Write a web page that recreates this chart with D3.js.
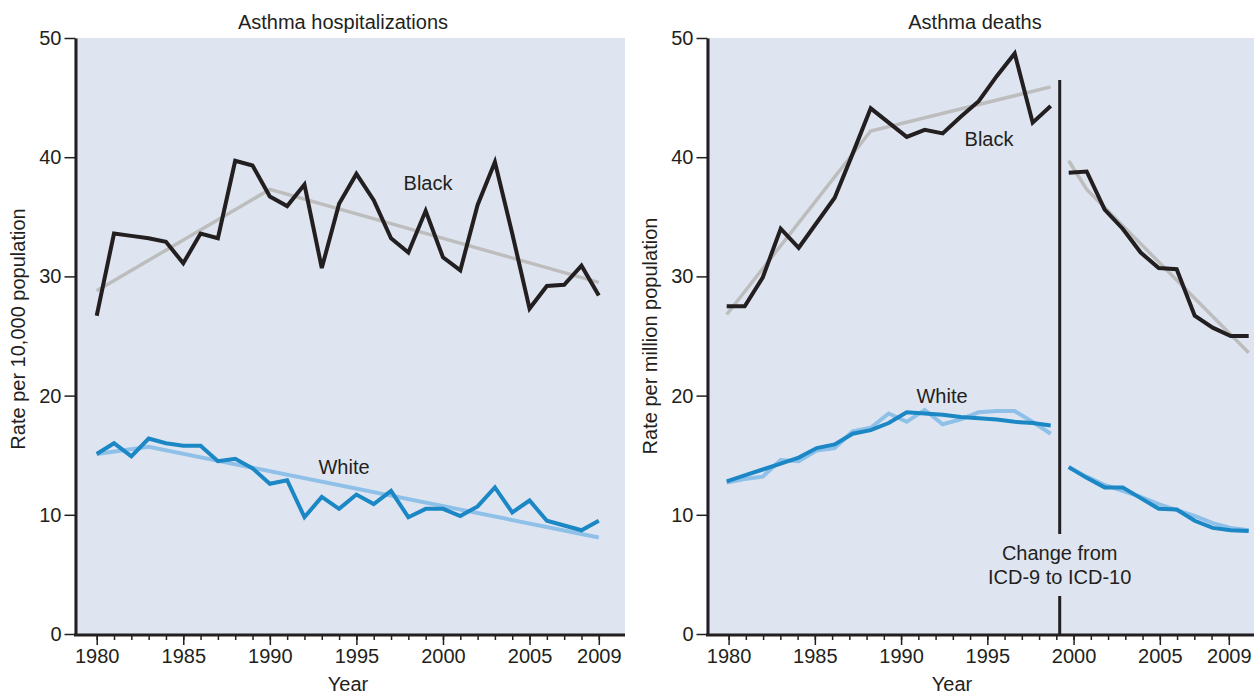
<!DOCTYPE html>
<html>
<head>
<meta charset="utf-8">
<script src="https://cdn.jsdelivr.net/npm/d3@7"></script>
<style>
  html, body { margin: 0; padding: 0; background: #fff; }
  svg { display: block; font-family: "Liberation Sans", Arial, sans-serif; }
</style>
</head>
<body>
<svg id="chart" width="1254" height="696"></svg>
<script>
// ---- Asthma hospitalizations (rate per 10,000 population), 1980–2009 ----
const hospYears = d3.range(1980, 2010);
const hospBlack = [26.7, 33.6, 33.4, 33.2, 32.9, 31.1, 33.6, 33.2, 39.7, 39.3,
                   36.7, 35.9, 37.7, 30.7, 36.1, 38.6, 36.4, 33.2, 32.0, 35.5,
                   31.6, 30.5, 36.0, 39.6, 33.6, 27.3, 29.2, 29.3, 30.9, 28.4];
const hospWhite = [15.1, 16.0, 14.9, 16.4, 16.0, 15.8, 15.8, 14.5, 14.7, 13.9,
                   12.6, 12.9, 9.8, 11.5, 10.5, 11.7, 10.9, 12.0, 9.8, 10.5,
                   10.5, 9.9, 10.7, 12.3, 10.2, 11.2, 9.5, 9.1, 8.7, 9.5];
// fitted trend segments [year, rate]
const hospBlackTrend = [[1980, 28.8], [1990, 37.3], [2009, 29.5]];
const hospWhiteTrend = [[1980, 15.1], [1983, 15.7], [2009, 8.1]];

// ---- Asthma deaths (rate per million population) ----
// ICD-9 period 1980–1998, ICD-10 period 1999–2009
const deathYears9 = d3.range(1980, 1999);
const deathYears10 = d3.range(1999, 2010);
const deathBlack9 = [27.5, 27.5, 29.9, 34.0, 32.4, 34.5, 36.6, 40.3, 44.1, 42.9,
                     41.7, 42.3, 42.0, 43.4, 44.7, 46.8, 48.7, 42.9, 44.3];
const deathBlack10 = [38.7, 38.8, 35.6, 34.0, 32.0, 30.7, 30.6, 26.7, 25.7, 25.0, 25.0];
const deathBlackTrend9 = [[1980, 26.8], [1988, 42.2], [1998, 45.9]];
const deathBlackTrend10 = [[1999, 39.7], [2000, 37.3], [2009, 23.6]];
const deathWhite9 = [12.7, 13.0, 13.2, 14.6, 14.5, 15.4, 15.6, 17.0, 17.3, 18.5,
                     17.8, 18.8, 17.6, 18.0, 18.6, 18.7, 18.7, 17.8, 16.8];
const deathWhiteFit9 = [12.8, 13.3, 13.8, 14.3, 14.8, 15.6, 15.9, 16.8, 17.1, 17.7,
                        18.6, 18.5, 18.4, 18.2, 18.1, 18.0, 17.8, 17.7, 17.5];
const deathWhite10 = [14.0, 13.2, 12.5, 12.0, 11.5, 10.9, 10.4, 9.9, 9.3, 8.9, 8.7];
const deathWhiteFit10 = [14.0, 13.1, 12.3, 12.3, 11.4, 10.5, 10.45, 9.5, 8.9, 8.7, 8.65];

const yTicks = [0, 10, 20, 30, 40, 50];
const yearTicks = [1980, 1985, 1990, 1995, 2000, 2005, 2009];

const C = {
  bg: "#dee5f1",
  ink: "#231f20",
  black: "#231f20",
  gray: "#bdbdbd",
  blue: "#1b87c5",
  lightBlue: "#8fc0e8"
};

const svg = d3.select("#chart");
const y = d3.scaleLinear().domain([0, 50]).range([634, 38]);

function panel(opts) {
  const g = svg.append("g");
  // plot background
  g.append("rect")
    .attr("x", opts.left).attr("y", y(50))
    .attr("width", opts.right - opts.left).attr("height", y(0) - y(50))
    .attr("fill", C.bg);

  // title
  g.append("text")
    .attr("x", opts.titleX).attr("y", 29)
    .attr("text-anchor", "middle")
    .attr("font-size", 20).attr("fill", C.ink)
    .text(opts.title);

  // y axis
  const ya = g.append("g")
    .attr("transform", `translate(${opts.left + 1.5},0)`)
    .call(d3.axisLeft(y).tickValues(yTicks).tickSize(11).tickSizeOuter(0).tickPadding(3));
  ya.select(".domain").attr("stroke", C.ink).attr("stroke-width", 3);
  ya.selectAll(".tick line").attr("stroke", C.ink).attr("stroke-width", 1.5);
  ya.selectAll(".tick text").attr("font-size", 20).attr("fill", C.ink)
    .attr("font-family", "Liberation Sans, Arial, sans-serif");

  // y title
  g.append("text")
    .attr("transform", `translate(${opts.yTitleX},${opts.yTitleY}) rotate(-90)`)
    .attr("text-anchor", "middle")
    .attr("font-size", 20).attr("fill", C.ink)
    .text(opts.yTitle);

  // x axis: minor ticks every year, major ticks with labels
  const xa = opts.xAxis;
  const minor = g.append("g")
    .attr("transform", `translate(0,${y(0)})`)
    .call(d3.axisBottom(xa).tickValues(d3.range(1980, 2010)).tickSize(6).tickFormat(""));
  minor.select(".domain").remove();
  minor.selectAll(".tick line").attr("stroke", C.ink).attr("stroke-width", 1.5);

  const major = g.append("g")
    .attr("transform", `translate(0,${y(0)})`)
    .call(d3.axisBottom(xa).tickValues(yearTicks).tickSize(11).tickPadding(4).tickFormat(d3.format("d")));
  major.select(".domain").remove();
  major.selectAll(".tick line").attr("stroke", C.ink).attr("stroke-width", 1.5);
  major.selectAll(".tick text").attr("font-size", 20).attr("fill", C.ink)
    .attr("font-family", "Liberation Sans, Arial, sans-serif");

  // bottom axis line
  g.append("line")
    .attr("x1", opts.left).attr("x2", opts.right)
    .attr("y1", y(0) + 1).attr("y2", y(0) + 1)
    .attr("stroke", C.ink).attr("stroke-width", 3);

  g.append("text")
    .attr("x", opts.yearX).attr("y", 691)
    .attr("text-anchor", "middle")
    .attr("font-size", 20).attr("fill", C.ink)
    .text("Year");
  return g;
}

function drawLine(g, x, pts, color, width) {
  g.append("path")
    .datum(pts)
    .attr("fill", "none")
    .attr("stroke", color)
    .attr("stroke-width", width)
    .attr("stroke-linejoin", "miter")
    .attr("d", d3.line().x(d => x(d[0])).y(d => y(d[1])));
}
const zip = (years, vals) => years.map((yr, i) => [yr, vals[i]]);

function label(g, x, yy, txt) {
  g.append("text")
    .attr("x", x).attr("y", yy)
    .attr("text-anchor", "middle")
    .attr("font-size", 20).attr("fill", C.ink)
    .text(txt);
}

// ---------- Left panel: hospitalizations ----------
const xL = d3.scaleLinear().domain([1980, 2009]).range([96.7, 598.8]);
const gL = panel({
  left: 74, right: 625, title: "Asthma hospitalizations", titleX: 343,
  yTitle: "Rate per 10,000 population", yTitleX: 25, yTitleY: 329,
  xAxis: xL, yearX: 348
});
drawLine(gL, xL, hospBlackTrend, C.gray, 3.5);
drawLine(gL, xL, zip(hospYears, hospBlack), C.black, 4);
drawLine(gL, xL, hospWhiteTrend, C.lightBlue, 4);
drawLine(gL, xL, zip(hospYears, hospWhite), C.blue, 4);
label(gL, 428, 190, "Black");
label(gL, 344, 474, "White");

// ---------- Right panel: deaths ----------
const xR = d3.scaleLinear().domain([1980, 2009]).range([726.7, 1248.7]);       // data
const xRAxis = d3.scaleLinear().domain([1980, 2009]).range([728.6, 1228.8]);   // year ticks
const gR = panel({
  left: 706, right: 1254, title: "Asthma deaths", titleX: 975,
  yTitle: "Rate per million population", yTitleX: 657, yTitleY: 336,
  xAxis: xRAxis, yearX: 952
});
drawLine(gR, xR, deathBlackTrend9, C.gray, 3.5);
drawLine(gR, xR, deathBlackTrend10, C.gray, 3.5);
drawLine(gR, xR, zip(deathYears9, deathBlack9), C.black, 4);
drawLine(gR, xR, zip(deathYears10, deathBlack10), C.black, 4);
drawLine(gR, xR, zip(deathYears9, deathWhite9), C.lightBlue, 4);
drawLine(gR, xR, zip(deathYears10, deathWhite10), C.lightBlue, 4);
drawLine(gR, xR, zip(deathYears9, deathWhiteFit9), C.blue, 4);
drawLine(gR, xR, zip(deathYears10, deathWhiteFit10), C.blue, 4);
label(gR, 989, 146, "Black");
label(gR, 942, 403, "White");

// coding change marker between 1998 and 1999
const xDiv = xR(1998.5);
gR.append("line").attr("x1", xDiv).attr("x2", xDiv)
  .attr("y1", 80).attr("y2", 534)
  .attr("stroke", C.black).attr("stroke-width", 3);
gR.append("line").attr("x1", xDiv).attr("x2", xDiv)
  .attr("y1", 596).attr("y2", y(0))
  .attr("stroke", C.black).attr("stroke-width", 3);
label(gR, xDiv, 560, "Change from");
label(gR, xDiv, 584, "ICD-9 to ICD-10");
</script>
</body>
</html>
